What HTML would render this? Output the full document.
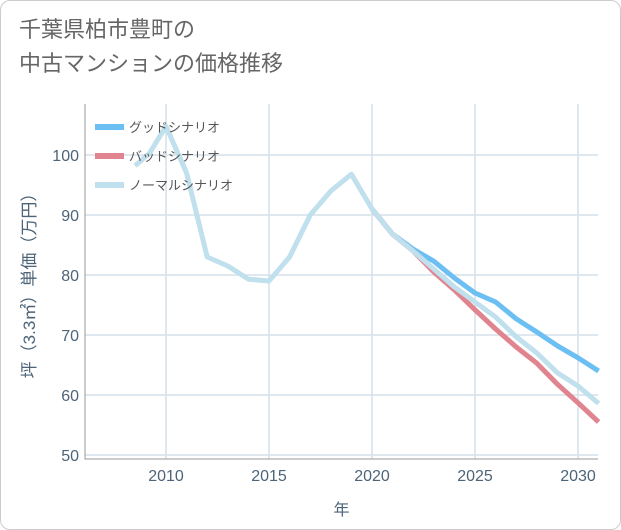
<!DOCTYPE html>
<html><head><meta charset="utf-8"><style>
body{margin:0;background:#fff;}
#wrap{position:relative;width:619px;height:528px;border:1px solid #ccc;border-radius:10px;overflow:hidden;background:#fff;font-family:"Liberation Sans","Noto Sans CJK JP",sans-serif;}
#title{position:absolute;left:18px;top:12px;font-size:22px;line-height:34px;color:#666;}
</style></head><body>
<div id="wrap">
<div id="title">千葉県柏市豊町の<br>中古マンションの価格推移</div>
<svg id="chart" width="621" height="530" style="position:absolute;left:0;top:0"></svg>
</div>
<script>
const normalYears=[2008.5,2009.2,2010,2011,2012,2013,2014,2015,2016,2017,2018,2019,2020,2021,2022,2023,2024,2025,2026,2027,2028,2029,2030,2031];
const normalVals=[98.2,100.3,104.8,97,83,81.5,79.3,79,83,90,94,96.8,91,86.8,84,81,78,75.5,73,69.7,67,63.7,61.5,58.6];
const goodYears=[2020,2021,2022,2023,2024,2025,2026,2027,2028,2029,2030,2031];
const goodVals=[91,86.8,84.3,82.3,79.5,77,75.5,72.7,70.5,68.2,66.2,64];
const badYears=[2020,2021,2022,2023,2024,2025,2026,2027,2028,2029,2030,2031];
const badVals=[91,86.8,84,80.5,77.5,74.2,71,68,65.3,61.8,58.7,55.5];
const yTicks=[50,60,70,80,90,100];
const xTicks=[2010,2015,2020,2025,2030];
const legendLabels=["グッドシナリオ","バッドシナリオ","ノーマルシナリオ"];
const NS="http://www.w3.org/2000/svg";
const svg=document.getElementById('chart');
const L=84,R=597,T=103,B=458;
const TC='#4d6478';
const xs=y=>165+(y-2010)*20.6;
const ys=v=>154+(100-v)*6;
function el(t,a){const e=document.createElementNS(NS,t);for(const k in a)e.setAttribute(k,a[k]);svg.appendChild(e);return e;}
yTicks.forEach(v=>{const g=el('line',{x1:L,x2:R,y1:ys(v),y2:ys(v),stroke:'#d5e1ea','stroke-width':1.5});

const t=el('text',{x:L-6,y:ys(v)+6,'text-anchor':'end','font-size':16,fill:TC});t.textContent=v;
});
xTicks.forEach(v=>{const g=el('line',{x1:xs(v),x2:xs(v),y1:T,y2:B,stroke:'#d5e1ea','stroke-width':1.5});

const t=el('text',{x:xs(v),y:B+22,'text-anchor':'middle','font-size':16,fill:TC});t.textContent=v;
});
const ax=el('path',{d:`M${L} ${T}V${B}H${R}`,fill:'none',stroke:'#999','stroke-width':1});

function line(xsArr,vs,c,name){const p=el('polyline',{points:xsArr.map((y,i)=>xs(y)+','+ys(vs[i])).join(' '),fill:'none',stroke:c,'stroke-width':5,'stroke-linejoin':'round'});
}
line(goodYears,goodVals,'#6bbff3','good-scenario-line');
line(badYears,badVals,'#e0858f','bad-scenario-line');
line(normalYears,normalVals,'#bfe0ec','normal-scenario-line');
const cols=['#6bbff3','#e0858f','#bfe0ec'];
legendLabels.forEach((s,i)=>{const y=126+i*29;
const r=el('rect',{x:94,y:y-3,width:29,height:6,fill:cols[i]});
const t=el('text',{x:128,y:y+5,'font-size':13,fill:'#555'});t.textContent=s;});
const yt=el('text',{x:34,y:(T+B)/2,'text-anchor':'middle','font-size':17,fill:TC,transform:`rotate(-90 34 ${(T+B)/2})`});yt.textContent='坪（3.3㎡）単価（万円）';

const xt=el('text',{x:(L+R)/2,y:514,'text-anchor':'middle','font-size':16,fill:TC});xt.textContent='年';

</script>
</body></html>
